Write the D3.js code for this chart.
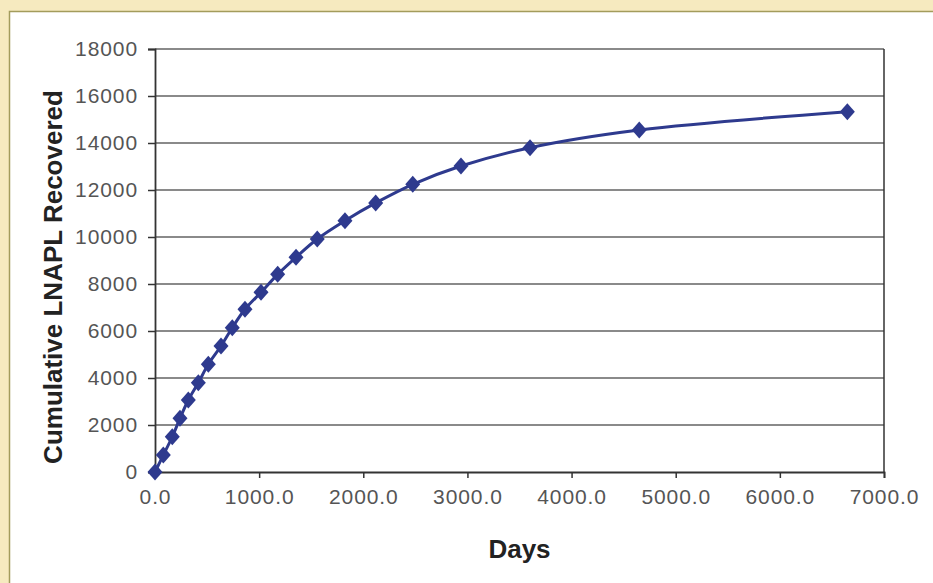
<!DOCTYPE html>
<html>
<head>
<meta charset="utf-8">
<script src="https://cdn.jsdelivr.net/npm/d3@7"></script>
<style>
  html, body { margin: 0; padding: 0; background: #f6eabf; }
  svg { display: block; }
  .tick text { font-family: "Liberation Sans", Arial, sans-serif; fill: #555; }
</style>
</head>
<body>
<svg id="chart" width="933" height="583"></svg>
<script>
// LNAPL recovery curve

const days = [0, 80, 166, 240, 320, 416, 512, 634, 742, 864, 1018, 1178, 1354, 1558, 1824, 2119, 2475, 2938, 3601, 4650, 6648];
const recovered = [0, 720, 1500, 2285, 3064, 3800, 4583, 5361, 6140, 6923, 7646, 8412, 9136, 9914, 10693, 11450, 12242, 13020, 13800, 14552, 15331];
const yTicks = [0, 2000, 4000, 6000, 8000, 10000, 12000, 14000, 16000, 18000];
const xTicks = [0, 1000, 2000, 3000, 4000, 5000, 6000, 7000];

const data = days.map((d, i) => ({ day: d, value: recovered[i] }));

const svg = d3.select("#chart");
const plot = { left: 155, right: 884, top: 49, bottom: 472 };

// white panel
svg.append("rect")
  .attr("x", 9.5).attr("y", 11.5)
  .attr("width", 940).attr("height", 600)
  .attr("fill", "#fff")
  .attr("stroke", "#a39c5c")
  .attr("stroke-width", 1.5);

const x = d3.scaleLinear().domain([0, 7000]).range([plot.left, plot.right]);
const y = d3.scaleLinear().domain([0, 18000]).range([plot.bottom, plot.top]);

// gridlines
svg.append("g")
  .selectAll("line")
  .data(yTicks.filter(d => d > 0))
  .enter()
  .append("line")
  .attr("x1", plot.left).attr("x2", plot.right)
  .attr("y1", d => y(d)).attr("y2", d => y(d))
  .attr("stroke", "#8a8a8a")
  .attr("stroke-width", 2);

// right border of plot area
svg.append("line")
  .attr("x1", plot.right).attr("x2", plot.right)
  .attr("y1", plot.top).attr("y2", plot.bottom)
  .attr("stroke", "#333").attr("stroke-width", 1.5);

// y axis
const yAxis = svg.append("g")
  .attr("transform", `translate(${plot.left},0)`)
  .call(d3.axisLeft(y).tickValues(yTicks).tickSize(7).tickPadding(10).tickFormat(d3.format("d")));
yAxis.selectAll("text").style("font-size", "21px").style("letter-spacing", "0.9px");

// x axis
const xAxis = svg.append("g")
  .attr("transform", `translate(0,${plot.bottom})`)
  .call(d3.axisBottom(x).tickValues(xTicks).tickSize(6).tickPadding(11).tickFormat(d3.format(".1f")));
xAxis.selectAll("text").style("font-size", "21px").style("letter-spacing", "0.9px");

svg.selectAll(".domain").attr("stroke", "#333").attr("stroke-width", 1.8);
svg.selectAll(".tick line").attr("stroke", "#333").attr("stroke-width", 1.5);

// curve
const line = d3.line()
  .x(d => x(d.day))
  .y(d => y(d.value))
  .curve(d3.curveCatmullRom.alpha(0.5));

svg.append("path")
  .datum(data)
  .attr("fill", "none")
  .attr("stroke", "#2e3a8e")
  .attr("stroke-width", 3)
  .attr("d", line);

// diamond markers
svg.selectAll(".pt")
  .data(data)
  .enter()
  .append("path")
  .attr("class", "pt")
  .attr("d", "M0,-8.5L7.5,0L0,8.5L-7.5,0Z")
  .attr("transform", d => `translate(${x(d.day)},${y(d.value)})`)
  .attr("fill", "#2e3a8e");

// axis titles
svg.append("text")
  .attr("x", (plot.left + plot.right) / 2)
  .attr("y", 558)
  .attr("text-anchor", "middle")
  .style("font-family", "Liberation Sans, Arial, sans-serif")
  .style("font-weight", "bold")
  .style("font-size", "26px")
  .attr("fill", "#222")
  .text("Days");

svg.append("text")
  .attr("transform", `translate(62,${(88 + 466) / 2}) rotate(-90)`)
  .attr("text-anchor", "middle")
  .style("font-family", "Liberation Sans, Arial, sans-serif")
  .style("font-weight", "bold")
  .style("font-size", "26px")
  .attr("fill", "#222")
  .text("Cumulative LNAPL Recovered");
</script>
</body>
</html>
